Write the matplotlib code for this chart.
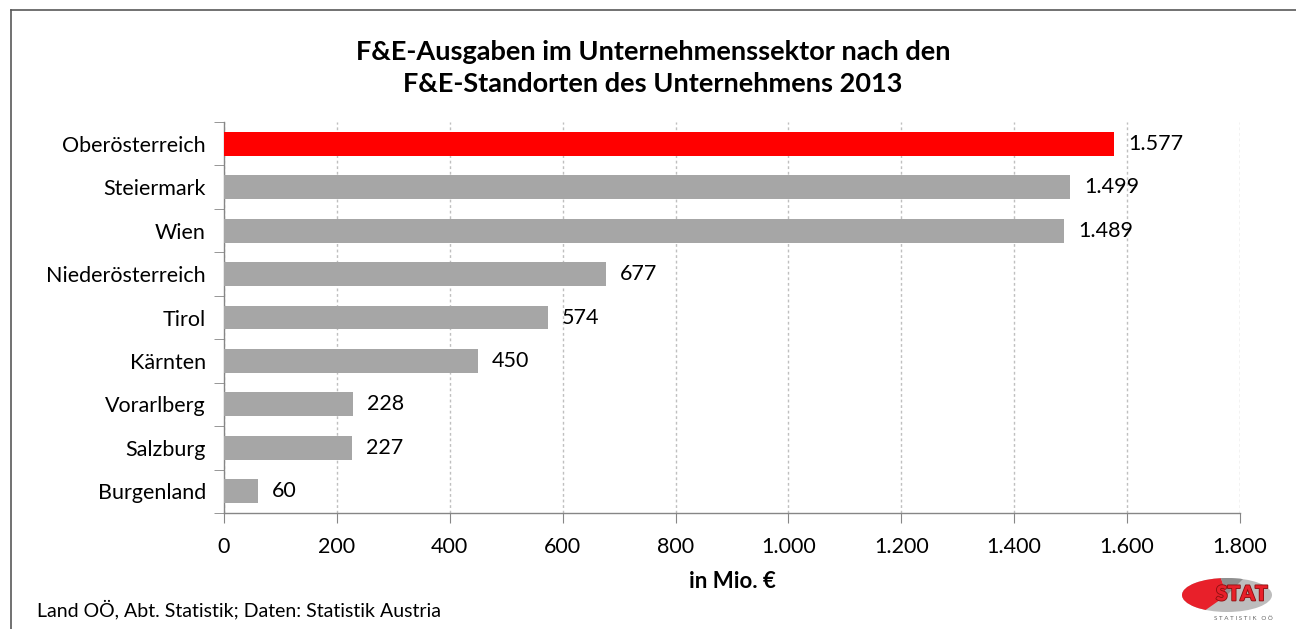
import matplotlib
matplotlib.use("Agg")
import matplotlib.pyplot as plt
from matplotlib.lines import Line2D
from matplotlib.patches import Ellipse, Wedge
import matplotlib.patheffects as pe

categories = ["Oberösterreich", "Steiermark", "Wien", "Niederösterreich", "Tirol",
              "Kärnten", "Vorarlberg", "Salzburg", "Burgenland"]
values = [1577, 1499, 1489, 677, 574, 450, 228, 227, 60]
value_labels = ["1.577", "1.499", "1.489", "677", "574", "450", "228", "227", "60"]
xticks = [0, 200, 400, 600, 800, 1000, 1200, 1400, 1600, 1800]
xtick_labels = ["0", "200", "400", "600", "800", "1.000", "1.200", "1.400", "1.600", "1.800"]
highlight = "Oberösterreich"

plt.rcParams['font.family'] = ['Lato', 'DejaVu Sans']

fig = plt.figure(figsize=(12.96, 6.29), dpi=100)
W, H = 1296, 629
ax = fig.add_axes([224 / W, 116 / H, (1240 - 224) / W, (513 - 122) / H])

FS = 15.5
colors = ["#FF0000" if c == highlight else "#A6A6A6" for c in categories]
ypos = list(range(len(categories)))
ax.barh(ypos, values, height=0.55, color=colors, zorder=3)
for y, v, lab in zip(ypos, values, value_labels):
    ax.annotate(lab, (v, y), xytext=(10, 0), textcoords="offset points",
                va="center", ha="left", fontsize=FS, color="black")

ax.set_xlim(0, 1800)
ax.set_ylim(len(categories) - 0.5, -0.5)
ax.set_xticks(xticks)
ax.set_xticklabels(xtick_labels, fontsize=FS)
ax.set_yticks(ypos)
ax.set_yticklabels(categories, fontsize=FS)
ax.set_yticks([i - 0.5 for i in range(len(categories) + 1)], minor=True)
ax.tick_params(axis="y", which="major", length=0, pad=13)
ax.tick_params(axis="y", which="minor", length=7, color="#868686", direction="out")
ax.tick_params(axis="x", which="major", length=7, color="#868686", direction="out", pad=10)

ax.grid(axis="x", which="major", linestyle=(0, (2, 2)), color="#BFBFBF", linewidth=1, zorder=0)
for s in ["top", "right"]:
    ax.spines[s].set_visible(False)
for s in ["left", "bottom"]:
    ax.spines[s].set_color("#868686")
    ax.spines[s].set_linewidth(1)

ax.set_xlabel("in Mio. €", fontsize=16, fontweight="bold", labelpad=10)

fig.text(653 / W, 1 - 68 / H, "F&E-Ausgaben im Unternehmenssektor nach den\nF&E-Standorten des Unternehmens 2013",
         ha="center", va="center", fontsize=19.5, fontweight="bold", linespacing=1.45)
fig.text(37 / W, 1 - 609 / H, "Land OÖ, Abt. Statistik; Daten: Statistik Austria",
         ha="left", va="center", fontsize=14)

# border lines (top and left)
fig.add_artist(Line2D([11 / W, 1.0], [1 - 10 / H, 1 - 10 / H], transform=fig.transFigure,
                      color="#595959", linewidth=1.2))
fig.add_artist(Line2D([11 / W, 11 / W], [1 - 10 / H, 0.0], transform=fig.transFigure,
                      color="#595959", linewidth=1.2))

# logo (coordinates: x in pixels, y in pixels from bottom)
lax = fig.add_axes([1175 / W, 0, 110 / W, 55 / H])
lax.set_xlim(1175, 1285)
lax.set_ylim(0, 55)
lax.set_aspect("equal")
lax.axis("off")
cx, cy = 1227, 34
ell = Ellipse((cx, cy), 90, 34, facecolor="#BDBDBD", edgecolor="none")
lax.add_patch(ell)
red = Wedge((cx, cy), 60, 110, 215, facecolor="#E8202A", edgecolor="none")
dark = Wedge((cx, cy), 60, 45, 110, facecolor="#8F8F8F", edgecolor="none")
lax.add_patch(red)
lax.add_patch(dark)
red.set_clip_path(ell)
dark.set_clip_path(ell)
lax.text(1242, 35, "STAT", color="#E8202A", fontsize=15, fontweight="heavy", ha="center", va="center",
         path_effects=[pe.withStroke(linewidth=1.2, foreground="#8A1010")])
lax.text(1243, 10, "S T A T I S T I K   O Ö", color="#666666", fontsize=4.5, ha="center", va="center")

fig.savefig("out.png", dpi=100)
